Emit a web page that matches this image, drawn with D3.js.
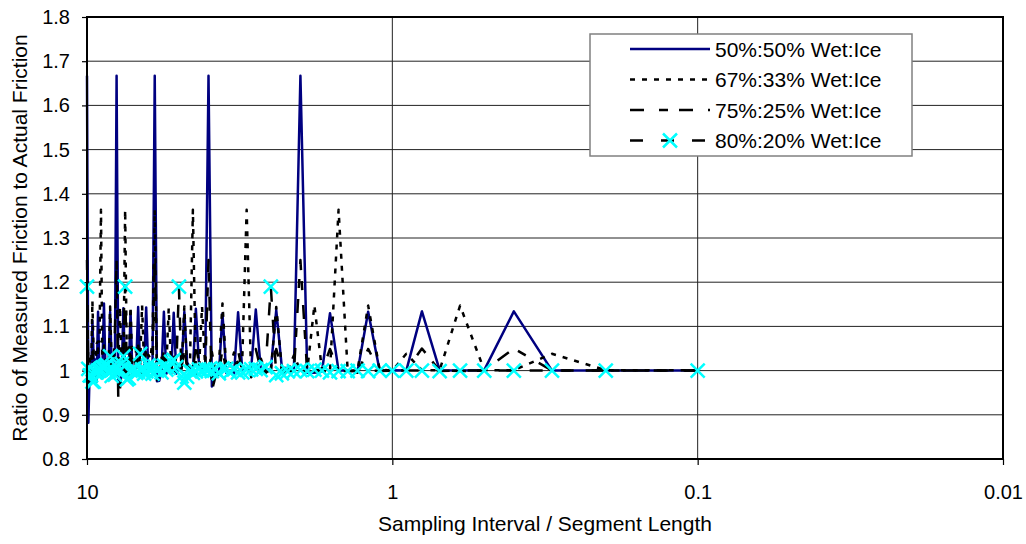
<!DOCTYPE html>
<html>
<head>
<meta charset="utf-8">
<script src="https://cdn.jsdelivr.net/npm/d3@7/dist/d3.min.js"></script>
<style>
    body { margin: 0; background: #fff; }
    text { font-family: "Liberation Sans", Arial, sans-serif; fill: #000; }
</style>
</head>
<body>
<svg id="chart" width="1026" height="544"></svg>
<script>
// sampling interval / segment length
var intervals = [0.1, 0.2, 0.3, 0.4, 0.5, 0.6, 0.7, 0.8, 0.9, 1.0,
                 1.1, 1.2, 1.3, 1.4, 1.5, 1.6, 1.7, 1.8, 1.9, 2.0,
                 2.1, 2.2, 2.3, 2.4, 2.5, 2.6, 2.7, 2.8, 2.9, 3.0,
                 3.1, 3.2, 3.3, 3.4, 3.5, 3.6, 3.7, 3.8, 3.9, 4.0,
                 4.1, 4.2, 4.3, 4.4, 4.5, 4.6, 4.7, 4.8, 4.9, 5.0,
                 5.1, 5.2, 5.3, 5.4, 5.5, 5.6, 5.7, 5.8, 5.9, 6.0,
                 6.1, 6.2, 6.3, 6.4, 6.5, 6.6, 6.7, 6.8, 6.9, 7.0,
                 7.1, 7.2, 7.3, 7.4, 7.5, 7.6, 7.7, 7.8, 7.9, 8.0,
                 8.1, 8.2, 8.3, 8.4, 8.5, 8.6, 8.7, 8.8, 8.9, 9.0,
                 9.1, 9.2, 9.3, 9.4, 9.5, 9.6, 9.7, 9.8, 9.9, 10.0];

// ratio of measured to actual friction, one value per interval
var wet50 = [1.000, 1.000, 1.000, 1.134, 1.001, 1.000, 1.001, 1.134, 1.000, 1.001,
             0.999, 1.133, 0.998, 1.000, 1.000, 1.130, 0.998, 0.995, 0.995, 1.667,
             1.003, 1.006, 1.006, 1.137, 1.003, 1.003, 1.007, 1.138, 1.004, 1.004,
             1.000, 1.132, 0.991, 1.000, 0.995, 1.129, 0.990, 1.000, 0.964, 1.667,
             1.011, 1.000, 1.017, 1.140, 1.000, 1.006, 1.019, 1.133, 1.006, 1.007,
             0.993, 1.131, 0.993, 1.007, 0.993, 1.133, 1.000, 0.977, 0.976, 1.667,
             1.016, 1.008, 1.000, 1.143, 1.009, 1.000, 1.009, 1.144, 1.009, 1.000,
             0.991, 1.133, 0.990, 1.000, 0.990, 1.141, 0.990, 0.969, 0.979, 1.667,
             1.022, 1.011, 1.011, 1.133, 1.011, 1.011, 1.000, 1.152, 1.012, 1.000,
             0.988, 1.133, 0.975, 1.025, 1.013, 1.113, 0.974, 1.000, 0.882, 1.667];

var wet67 = [1.001, 1.001, 1.038, 1.001, 1.001, 1.147, 1.001, 1.001, 1.038, 1.000,
             1.002, 1.147, 1.001, 0.998, 1.364, 1.001, 1.001, 1.148, 1.000, 0.999,
             1.035, 1.000, 1.003, 1.144, 0.995, 0.996, 1.029, 0.998, 0.985, 1.364,
             1.027, 1.016, 1.041, 1.010, 1.005, 1.152, 1.011, 1.000, 1.042, 1.000,
             1.006, 1.145, 1.000, 0.990, 1.364, 1.013, 0.997, 1.145, 1.004, 0.996,
             1.033, 0.993, 1.008, 1.141, 1.004, 1.000, 1.029, 0.987, 0.979, 1.364,
             1.071, 1.027, 1.036, 1.018, 1.009, 1.148, 1.015, 1.010, 1.050, 1.000,
             0.995, 1.145, 1.016, 0.995, 1.364, 1.017, 1.011, 1.145, 1.006, 1.000,
             1.029, 1.006, 1.006, 1.145, 0.994, 0.994, 1.025, 0.981, 0.981, 1.364,
             1.066, 1.066, 1.061, 1.000, 1.014, 1.158, 0.986, 1.028, 1.043, 1.000];

var wet75 = [1.000, 1.000, 1.000, 1.050, 1.000, 0.999, 1.000, 1.050, 1.000, 1.000,
             0.999, 1.049, 0.995, 0.999, 0.999, 1.049, 0.999, 0.998, 0.996, 1.250,
             0.999, 1.000, 1.002, 1.049, 1.001, 0.996, 1.003, 1.049, 1.001, 0.999,
             0.997, 1.046, 0.993, 1.000, 0.998, 1.049, 0.993, 0.985, 0.955, 1.250,
             1.004, 1.000, 1.019, 1.057, 1.000, 1.002, 1.007, 1.050, 1.007, 1.002,
             0.997, 1.044, 0.997, 1.003, 0.997, 1.050, 1.000, 0.997, 0.991, 1.250,
             1.006, 1.003, 1.000, 1.047, 1.003, 0.987, 0.997, 1.061, 1.003, 1.000,
             0.996, 1.050, 1.004, 1.000, 0.981, 1.038, 1.004, 0.958, 0.938, 1.250,
             1.089, 1.004, 1.020, 1.050, 1.013, 1.013, 0.991, 1.057, 1.022, 1.000,
             0.995, 1.050, 0.991, 1.009, 1.005, 1.042, 1.000, 1.000, 0.956, 1.250];

var wet80 = [1.000, 1.000, 1.000, 1.000, 1.000, 1.000, 0.999, 1.000, 1.000, 1.000,
             1.000, 0.999, 1.000, 0.999, 0.999, 0.996, 1.000, 1.002, 0.999, 1.001,
             0.999, 0.998, 0.994, 0.990, 1.190, 1.008, 1.001, 1.004, 1.003, 1.002,
             0.996, 0.996, 1.003, 0.997, 1.004, 1.005, 0.994, 1.003, 0.999, 1.002,
             1.003, 1.000, 1.003, 0.998, 0.995, 0.998, 0.986, 0.973, 0.987, 1.190,
             1.008, 1.024, 1.020, 1.006, 1.002, 1.011, 0.996, 1.004, 1.000, 1.009,
             0.993, 1.002, 1.012, 0.998, 0.993, 1.003, 1.038, 0.997, 0.995, 1.005,
             1.003, 1.000, 0.983, 0.980, 1.190, 1.032, 1.015, 1.000, 0.997, 1.009,
             0.991, 1.003, 0.988, 1.032, 0.997, 1.013, 1.010, 1.007, 1.007, 1.003,
             1.000, 1.000, 0.996, 0.996, 0.975, 0.975, 0.989, 0.989, 1.004, 1.190];

var seriesNames = ["50%:50% Wet:Ice", "67%:33% Wet:Ice", "75%:25% Wet:Ice", "80%:20% Wet:Ice"];
var yTicks = [0.8, 0.9, 1.0, 1.1, 1.2, 1.3, 1.4, 1.5, 1.6, 1.7, 1.8];
var xTicks = [10, 1, 0.1, 0.01];
var xTickLabels = ["10", "1", "0.1", "0.01"];

function drawChart() {
    var svg = d3.select("#chart");
    var plot = { left: 87, right: 1003, top: 17, bottom: 459 };

    var x = d3.scaleLog().domain([10, 0.01]).range([plot.left, plot.right]);
    var y = d3.scaleLinear().domain([0.8, 1.8]).range([plot.bottom, plot.top]);

    var styles = [
        { values: wet50, color: "#000080", dash: null },
        { values: wet67, color: "#000", dash: "5,7" },
        { values: wet75, color: "#000", dash: "14,15,9,11" },
        { values: wet80, color: "#000", dash: "13,18", marker: true }
    ];

    // gridlines
    svg.append("g")
        .selectAll("line")
        .data(yTicks.slice(1, -1))
        .enter().append("line")
        .attr("x1", plot.left).attr("x2", plot.right)
        .attr("y1", function (d) { return y(d); })
        .attr("y2", function (d) { return y(d); })
        .attr("stroke", "#222").attr("stroke-width", 1);
    svg.append("g")
        .selectAll("line")
        .data(xTicks.slice(1, -1))
        .enter().append("line")
        .attr("x1", function (d) { return x(d); })
        .attr("x2", function (d) { return x(d); })
        .attr("y1", plot.top).attr("y2", plot.bottom)
        .attr("stroke", "#222").attr("stroke-width", 1);

    // axes
    var yAxis = svg.append("g")
        .attr("transform", "translate(" + plot.left + ",0)")
        .call(d3.axisLeft(y)
            .tickValues(yTicks)
            .tickSize(5)
            .tickPadding(12)
            .tickFormat(function (d) { return String(+d.toFixed(1)); }));
    var xAxis = svg.append("g")
        .attr("transform", "translate(0," + plot.bottom + ")")
        .call(d3.axisBottom(x)
            .tickValues(xTicks)
            .tickSize(6)
            .tickPadding(20)
            .tickFormat(function (d, i) { return xTickLabels[i]; }));
    [yAxis, xAxis].forEach(function (a) {
        a.select(".domain").remove();
        a.selectAll(".tick line").attr("stroke", "#000").attr("stroke-width", 1.2);
        a.selectAll(".tick text")
            .attr("font-family", "Liberation Sans, Arial, sans-serif")
            .attr("font-size", 20)
            .attr("fill", "#000");
    });

    // series lines
    var line = d3.line()
        .x(function (d) { return x(d[0]); })
        .y(function (d) { return y(d[1]); });

    styles.forEach(function (s) {
        var pts = d3.zip(intervals, s.values);
        svg.append("path")
            .datum(pts)
            .attr("d", line)
            .attr("fill", "none")
            .attr("stroke", s.color)
            .attr("stroke-width", 2.5)
            .attr("stroke-linejoin", "round")
            .attr("stroke-dasharray", s.dash);
    });

    // X markers for the last series
    var cross = "M-7,-7L7,7M-7,7L7,-7";
    svg.append("g")
        .selectAll("path")
        .data(d3.zip(intervals, wet80))
        .enter().append("path")
        .attr("transform", function (d) { return "translate(" + x(d[0]) + "," + y(d[1]) + ")"; })
        .attr("d", cross)
        .attr("fill", "none")
        .attr("stroke", "#00ffff")
        .attr("stroke-width", 2.5);

    // frame
    svg.append("rect")
        .attr("x", plot.left).attr("y", plot.top)
        .attr("width", plot.right - plot.left)
        .attr("height", plot.bottom - plot.top)
        .attr("fill", "none")
        .attr("stroke", "#000")
        .attr("stroke-width", 2);

    // titles
    svg.append("text")
        .attr("x", (plot.left + plot.right) / 2)
        .attr("y", 531)
        .attr("text-anchor", "middle")
        .attr("font-size", 21)
        .text("Sampling Interval / Segment Length");
    svg.append("text")
        .attr("transform", "translate(27," + (plot.top + plot.bottom) / 2 + ") rotate(-90)")
        .attr("text-anchor", "middle")
        .attr("font-size", 21)
        .text("Ratio of Measured Friction to Actual Friction");

    // legend
    var legend = svg.append("g").attr("transform", "translate(590,34)");
    legend.append("rect")
        .attr("width", 322).attr("height", 122)
        .attr("fill", "#fff")
        .attr("stroke", "#808080")
        .attr("stroke-width", 1.5);
    var rows = legend.selectAll("g.row")
        .data(styles)
        .enter().append("g")
        .attr("class", "row")
        .attr("transform", function (d, i) { return "translate(0," + (15 + i * 30.5) + ")"; });
    rows.append("line")
        .attr("x1", 40).attr("x2", 120)
        .attr("stroke", function (d) { return d.color; })
        .attr("stroke-width", 2.5)
        .attr("stroke-dasharray", function (d) { return d.dash; });
    rows.filter(function (d) { return d.marker; })
        .append("path")
        .attr("transform", "translate(80,0)")
        .attr("d", cross)
        .attr("fill", "none")
        .attr("stroke", "#00ffff")
        .attr("stroke-width", 2.5);
    rows.append("text")
        .attr("x", 125)
        .attr("dy", "0.36em")
        .attr("font-size", 21)
        .text(function (d, i) { return seriesNames[i]; });
}

drawChart();
</script>
</body>
</html>
